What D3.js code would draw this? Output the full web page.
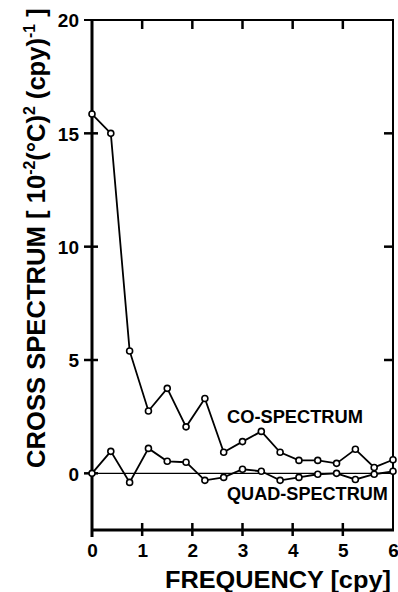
<!DOCTYPE html>
<html><head><meta charset="utf-8">
<script src="https://cdn.jsdelivr.net/npm/d3@7"></script>
<style>body{margin:0;background:#fff}svg{display:block}text{font-family:"Liberation Sans",Arial,sans-serif;font-weight:bold;fill:#000}</style>
</head><body><svg id="c" width="398" height="592"></svg>
<script>
const freq = [0,0.375,0.75,1.125,1.5,1.875,2.25,2.625,3,3.375,3.75,4.125,4.5,4.875,5.25,5.625,6];
const coSpectrum = [15.85,15.0,5.4,2.75,3.75,2.05,3.3,0.93,1.4,1.85,0.93,0.57,0.57,0.44,1.06,0.26,0.6];
const quadSpectrum = [0,0.97,-0.4,1.1,0.53,0.49,-0.31,-0.18,0.18,0.09,-0.31,-0.18,-0.04,0.0,-0.27,-0.04,0.09];
const xTicks = [0,1,2,3,4,5,6];
const yTicks = [0,5,10,15,20];
const seriesLabels = ["CO-SPECTRUM","QUAD-SPECTRUM"];

(function(){
const svg = d3.select("#c");
const x = d3.scaleLinear([0,6],[92,393]);
const y = d3.scaleLinear([-2.5,20],[530,20]);
const ln = (x1,y1,x2,y2,w)=>svg.append("line").attr("x1",x1).attr("y1",y1).attr("x2",x2).attr("y2",y2)
  .attr("stroke","#000").attr("stroke-width",w);

// zero line
ln(x(0),y(0),x(6),y(0),1.2);
// frame top & right
ln(x(0)-8,y(20),x(6)+1,y(20),2);
ln(x(6),y(20),x(6),y(-2.5),2);
// top ticks (inward)
xTicks.filter(d=>d>0&&d<6).forEach(d=>ln(x(d),y(20),x(d),y(20)+9,2.5));
// right ticks (inward)
yTicks.filter(d=>d>0&&d<20).forEach(d=>ln(x(6),y(d),x(6)-9,y(d),2.5));
// left ticks (crossing)
yTicks.filter(d=>d<20).forEach(d=>ln(x(0)-8,y(d),x(0)+6,y(d),2.5));
// bottom ticks (crossing)
xTicks.filter(d=>d>0&&d<6).forEach(d=>ln(x(d),y(-2.5)-7,x(d),y(-2.5)+6,2.5));
// left & bottom axis lines
ln(x(0),y(20),x(0),537,3);
ln(x(0)-1,y(-2.5),x(6)+1,y(-2.5),3);

// tick labels via d3 axes (no lines)
const gLeft = svg.append("g").attr("transform",`translate(${x(0)},0)`)
  .call(d3.axisLeft(y).tickValues(yTicks).tickSize(0).tickPadding(13).tickFormat(d3.format("d")));
gLeft.select(".domain").remove();
gLeft.selectAll(".tick line").remove();
gLeft.selectAll(".tick text").attr("font-size",19).attr("font-family",null).attr("dy","0.36em");

const gBottom = svg.append("g").attr("transform",`translate(0,${y(-2.5)})`)
  .call(d3.axisBottom(x).tickValues(xTicks).tickSize(0).tickPadding(14).tickFormat(d3.format("d")));
gBottom.select(".domain").remove();
gBottom.selectAll(".tick line").remove();
gBottom.selectAll(".tick text").attr("font-size",19).attr("font-family",null);

// series
const line = d3.line().x(d=>x(d[0])).y(d=>y(d[1]));
[coSpectrum, quadSpectrum].forEach(vals=>{
  const pts = freq.map((f,i)=>[f,vals[i]]);
  svg.append("path").datum(pts).attr("d",line).attr("fill","none").attr("stroke","#000").attr("stroke-width",1.8);
  svg.selectAll(null).data(pts).join("circle").attr("cx",d=>x(d[0])).attr("cy",d=>y(d[1])).attr("r",3)
    .attr("fill","#fff").attr("stroke","#000").attr("stroke-width",1.6);
});

function fit(t, len){
  return len/t.node().getBBox().width;
}

const l1 = svg.append("text").attr("x",227).attr("y",423).attr("font-size",18).text(seriesLabels[0]);
l1.attr("transform",`translate(227,0) scale(${fit(l1,136)},1) translate(-227,0)`);
const l2 = svg.append("text").attr("x",227).attr("y",500).attr("font-size",18).text(seriesLabels[1]);
l2.attr("transform",`translate(227,0) scale(${fit(l2,161)},1) translate(-227,0)`);

const xt = svg.append("text").attr("x",165).attr("y",588).attr("font-size",24).text("FREQUENCY [cpy]");
xt.attr("transform",`translate(165,0) scale(${fit(xt,226)},1) translate(-165,0)`);

const yt = svg.append("text").attr("font-size",26).attr("x",0).attr("y",0);
yt.append("tspan").text("CROSS SPECTRUM [ 10");
yt.append("tspan").attr("font-size",16).attr("dy",-10).text("-2");
yt.append("tspan").attr("dy",10).text("(°C)");
yt.append("tspan").attr("font-size",16).attr("dy",-10).text("2");
yt.append("tspan").attr("dy",10).text(" (cpy)");
yt.append("tspan").attr("font-size",16).attr("dy",-10).text("-1");
yt.append("tspan").attr("dy",10).text(" ]");
const sx = 460/yt.node().getBBox().width;
yt.attr("transform",`translate(45,468) rotate(-90) scale(${sx},1)`);
})();
</script></body></html>
